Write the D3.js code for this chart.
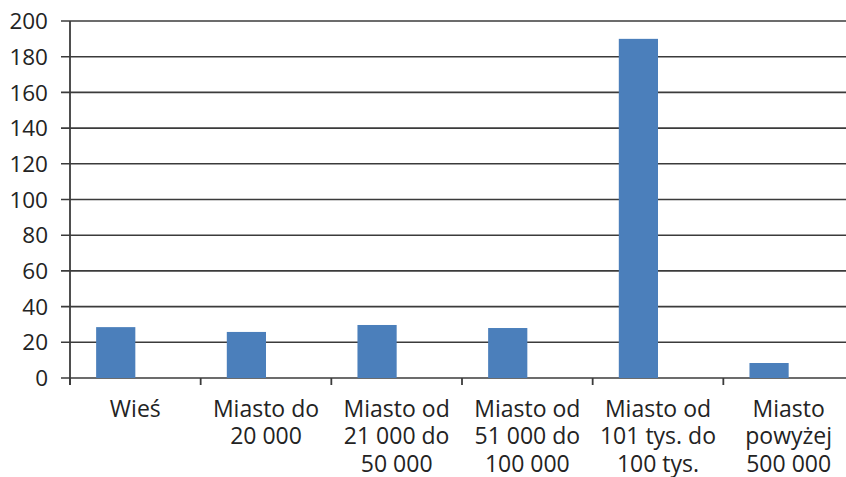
<!DOCTYPE html>
<html>
<head>
<meta charset="utf-8">
<script src="https://cdn.jsdelivr.net/npm/d3@7"></script>
<style>
  html, body { margin: 0; padding: 0; background: #fff; }
  svg { display: block; overflow: hidden; }
  text { font-family: "Open Sans", "Noto Sans", sans-serif; fill: #232323; }
</style>
</head>
<body>
<div id="chart"></div>
<script>
// Category labels (line breaks marked with "\n")
const categories = [
  "Wieś",
  "Miasto do\n20 000",
  "Miasto od\n21 000 do\n50 000",
  "Miasto od\n51 000 do\n100 000",
  "Miasto od\n101 tys. do\n100 tys.",
  "Miasto\npowyżej\n500 000"
];
const values = [28.5, 25.8, 29.7, 28, 190, 8.4];
const yTicks = [0, 20, 40, 60, 80, 100, 120, 140, 160, 180, 200];

const W = 846, H = 477;
const plot = { left: 70, right: 854, top: 21, bottom: 378 };

const svg = d3.select("#chart").append("svg")
  .attr("width", W).attr("height", H);

const x = d3.scaleBand()
  .domain(categories)
  .range([plot.left, plot.right])
  .padding(0);

// two slots per category; the first one holds the bar
const inner = d3.scaleBand()
  .domain(["s1", "s2"])
  .range([0, x.bandwidth()])
  .paddingInner(0)
  .paddingOuter(2 / 3);

const y = d3.scaleLinear()
  .domain([0, 200])
  .range([plot.bottom, plot.top]);

const lineColor = "#3b3b3b";

// horizontal gridlines
svg.append("g").selectAll("line")
  .data(yTicks)
  .join("line")
  .attr("x1", plot.left - 9)
  .attr("x2", plot.right)
  .attr("y1", d => y(d))
  .attr("y2", d => y(d))
  .attr("stroke", lineColor)
  .attr("stroke-width", 1.6);

// y tick labels
svg.append("g").selectAll("text")
  .data(yTicks)
  .join("text")
  .attr("x", 48)
  .attr("y", d => y(d))
  .attr("dy", "0.36em")
  .attr("text-anchor", "end")
  .style("font-size", "22.5px")
  .text(d => d);

// bars
svg.append("g").selectAll("rect")
  .data(categories.map((c, i) => ({ c, v: values[i] })))
  .join("rect")
  .attr("x", d => x(d.c) + inner("s1"))
  .attr("width", inner.bandwidth())
  .attr("y", d => y(d.v))
  .attr("height", d => y(0) - y(d.v))
  .attr("fill", "#4b7fbb");

// vertical axis line
svg.append("line")
  .attr("x1", plot.left).attr("x2", plot.left)
  .attr("y1", plot.top).attr("y2", plot.bottom + 7)
  .attr("stroke", lineColor)
  .attr("stroke-width", 1.8);

// category separator ticks
const edges = categories.map(c => x(c)).concat([plot.right]);
svg.append("g").selectAll("line")
  .data(edges)
  .join("line")
  .attr("x1", d => d).attr("x2", d => d)
  .attr("y1", plot.bottom).attr("y2", plot.bottom + 7)
  .attr("stroke", lineColor)
  .attr("stroke-width", 1.8);

// category labels, one text element per line
const lines = categories.flatMap(c =>
  c.split("\n").map((t, i) => ({ t, i, cx: x(c) + x.bandwidth() / 2 })));

svg.append("g").selectAll("text")
  .data(lines)
  .join("text")
  .attr("x", d => d.cx)
  .attr("y", d => 416.5 + d.i * 27.7)
  .attr("text-anchor", "middle")
  .style("font-size", "23px")
  .text(d => d.t);
</script>
</body>
</html>
